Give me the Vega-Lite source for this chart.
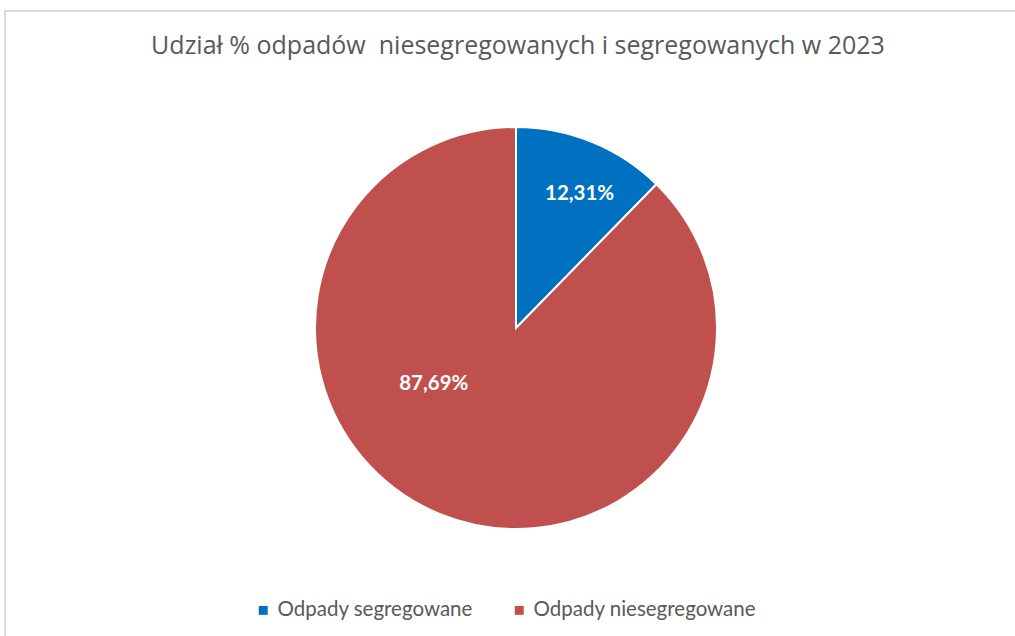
{
  "$schema": "https://vega.github.io/schema/vega-lite/v6.json",
  "width": 1022,
  "height": 634,
  "autosize": {"type": "none"},
  "padding": {"left": 5, "top": 11, "right": -12, "bottom": -9},
  "background": "white",
  "config": {
    "view": {"stroke": null},
    "locale": {"number": {"decimal": ",", "thousands": " ", "grouping": [3], "currency": ["", " zł"]}}
  },
  "title": {
    "text": "Udział % odpadów \u00a0niesegregowanych i segregowanych w 2023",
    "font": "Open Sans",
    "fontSize": 25,
    "fontWeight": "normal",
    "color": "#595959",
    "anchor": "middle",
    "offset": -49,
    "dx": 2
  },
  "data": {
    "values": [
      {"kategoria": "Odpady segregowane", "udzial": 0.1231, "kolejnosc": 1},
      {"kategoria": "Odpady niesegregowane", "udzial": 0.8769, "kolejnosc": 2}
    ]
  },
  "layer": [
    {
      "mark": {"type": "rect", "fill": null, "stroke": "#d9d9d9", "strokeWidth": 1.5},
      "encoding": {}
    },
    {
      "mark": {"type": "arc", "outerRadius": 201, "stroke": "white", "strokeWidth": 2},
      "encoding": {
        "theta": {"field": "udzial", "type": "quantitative", "stack": true},
        "order": {"field": "kolejnosc", "type": "quantitative"},
        "color": {
          "field": "kategoria",
          "type": "nominal",
          "scale": {"domain": ["Odpady segregowane", "Odpady niesegregowane"], "range": ["#0070C0", "#C0504D"]},
          "legend": {
            "title": null,
            "orient": "none",
            "direction": "horizontal",
            "legendX": 248,
            "legendY": 589,
            "symbolType": "square",
            "symbolSize": 80,
            "symbolStrokeWidth": 0,
            "labelFont": "Lato",
            "labelFontSize": 20.5,
            "labelColor": "#595959",
            "labelLimit": 400,
            "columnPadding": 36,
            "labelOffset": 4
          }
        }
      }
    },
    {
      "mark": {"type": "text", "radius": 150, "dx": 7, "dy": 5, "font": "Lato", "fontSize": 20.5, "fontWeight": "bold", "fill": "white"},
      "encoding": {
        "theta": {"field": "udzial", "type": "quantitative", "stack": true},
        "order": {"field": "kolejnosc", "type": "quantitative"},
        "text": {"condition": {"test": "datum.kategoria !== 'Odpady segregowane'", "value": ""}, "field": "udzial", "type": "quantitative", "format": ".2%"},
        "color": {"value": "white"}
      }
    },
    {
      "mark": {"type": "text", "radius": 104, "dx": -43, "dy": -40, "font": "Lato", "fontSize": 20.5, "fontWeight": "bold", "fill": "white"},
      "encoding": {
        "theta": {"field": "udzial", "type": "quantitative", "stack": true},
        "order": {"field": "kolejnosc", "type": "quantitative"},
        "text": {"condition": {"test": "datum.kategoria !== 'Odpady niesegregowane'", "value": ""}, "field": "udzial", "type": "quantitative", "format": ".2%"},
        "color": {"value": "white"}
      }
    }
  ]
}
